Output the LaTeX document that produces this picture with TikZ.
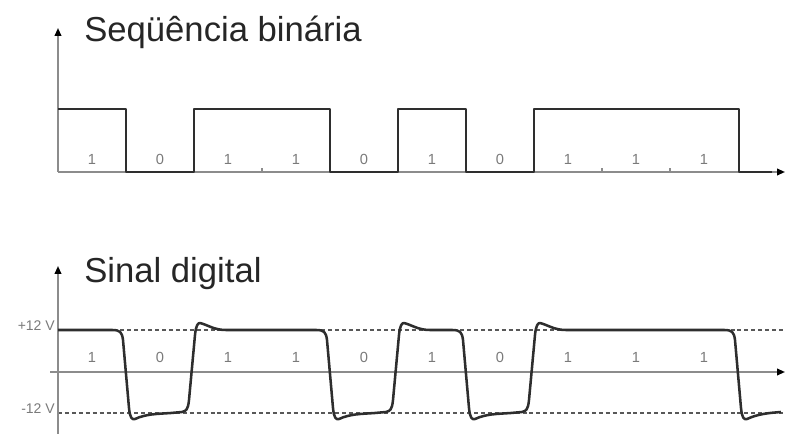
\documentclass[tikz,border=0pt]{standalone}
\usepackage{fontspec}
\setmainfont{Liberation Sans}
\usetikzlibrary{arrows.meta}
\definecolor{axisgray}{HTML}{8C8C8C}
\definecolor{wave}{HTML}{2E2E2E}
\definecolor{lblgray}{HTML}{7A7A7A}
\begin{document}
\begin{tikzpicture}[x=0.75pt,y=-0.75pt,
  axis/.style={draw=axisgray,line width=1.3pt},
  axisarrow/.style={axis,-{Triangle[length=6pt,width=5pt,fill=black,color=black]}},
  wavestyle/.style={draw=wave,line width=1.9pt,line join=round},
  levelline/.style={draw=wave!80,dashed,dash pattern=on 3pt off 2.2pt,line width=0.8pt},
  bitlbl/.style={text=lblgray,font=\fontsize{11}{13}\selectfont,inner sep=0pt},
  vlbl/.style={text=lblgray,font=\fontsize{10.5}{12}\selectfont,inner sep=0pt,anchor=east},
  title/.style={text=black!85,font=\fontsize{26}{30}\selectfont,inner sep=0pt,anchor=west},
  tick/.style={draw=axisgray,line width=1pt}]
\useasboundingbox (0,0) rectangle (786,434);
% ---------- top: binary sequence ----------
\coordinate (tO) at (58,172);
\coordinate (tYend) at (58,28);
\coordinate (tXend) at (785,172);
\draw[axisarrow] (tO) -- (tYend);
\draw[axisarrow] (tO) -- (tXend);
\node[title] (t1) at (84,32) {Seqüência binária};
\foreach \x in {262,602,670}{\draw[tick] (\x,172) -- (\x,168);}
\draw[wavestyle] (58,109) -- (126,109) -- (126,172) -- (194,172) -- (194,109) -- (330,109)
  -- (330,172) -- (398,172) -- (398,109) -- (466,109) -- (466,172) -- (534,172)
  -- (534,109) -- (739,109) -- (739,172) -- (772,172);
\foreach \b [count=\i] in {1,0,1,1,0,1,0,1,1,1}{
  \node[bitlbl] (tb\i) at ({58+68*(\i-0.5)},159) {\b};
}
% ---------- bottom: digital signal ----------
\coordinate (bO) at (58,434);
\coordinate (bYend) at (58,266);
\coordinate (bZs) at (50,372);
\coordinate (bZe) at (785,372);
\coordinate (pA) at (58,330);
\coordinate (pB) at (786,330);
\coordinate (nA) at (58,413);
\coordinate (nB) at (786,413);
\draw[levelline] (pA) -- (pB);
\draw[levelline] (nA) -- (nB);
\draw[axisarrow] (bO) -- (bYend);
\draw[axisarrow] (bZs) -- (bZe);
\node[title] (t2) at (84,274) {Sinal digital};
\node[vlbl] (vp) at (55,326) {+12 V};
\node[vlbl] (vn) at (55,409) {-12 V};
\foreach \b [count=\i] in {1,0,1,1,0,1,0,1,1,1}{
  \node[bitlbl] (bb\i) at ({58+68*(\i-0.5)},357) {\b};
}
\draw[wavestyle] (58,330)
  -- (112,330) .. controls (120,330) and (122,332) .. (123,340) -- (129,408) .. controls (130,418) and (132,420) .. (135,419) .. controls (146,414) and (156,414) .. (171,413)
  -- (182,412) .. controls (186,411) and (188,410) .. (189,400) -- (195,335) .. controls (196,325) and (198,323) .. (200,323) .. controls (208,325) and (214,330) .. (226,330)
  -- (316,330) .. controls (324,330) and (326,332) .. (327,340) -- (333,408) .. controls (334,418) and (336,420) .. (339,419) .. controls (350,414) and (360,414) .. (375,413)
  -- (386,412) .. controls (390,411) and (392,410) .. (393,400) -- (399,335) .. controls (400,325) and (402,323) .. (404,323) .. controls (412,325) and (418,330) .. (430,330)
  -- (452,330) .. controls (460,330) and (462,332) .. (463,340) -- (469,408) .. controls (470,418) and (472,420) .. (475,419) .. controls (486,414) and (496,414) .. (511,413)
  -- (522,412) .. controls (526,411) and (528,410) .. (529,400) -- (535,335) .. controls (536,325) and (538,323) .. (540,323) .. controls (548,325) and (554,330) .. (566,330)
  -- (724,330) .. controls (732,330) and (734,332) .. (735,340) -- (741,408) .. controls (742,418) and (744,420) .. (747,419) .. controls (758,414) and (768,413) .. (781,412);
\end{tikzpicture}
\end{document}
